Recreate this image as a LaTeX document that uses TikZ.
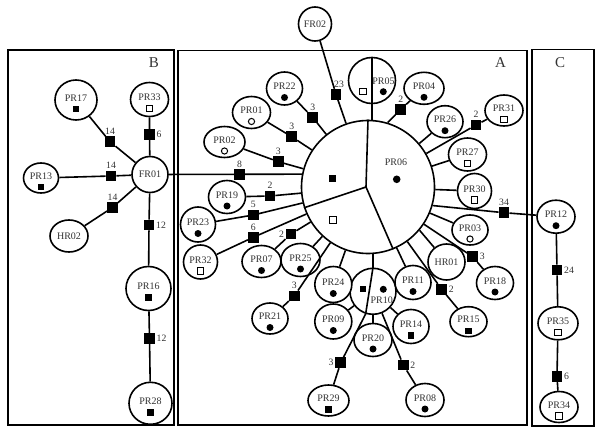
\documentclass[tikz,border=0pt]{standalone}
\usepackage{fontspec}
\setmainfont{Liberation Serif}
\usetikzlibrary{shapes.geometric}
\newcommand\hapfont{\fontsize{10}{12}\selectfont}
\newcommand\numfont{\fontsize{9.7}{11}\selectfont}
\newcommand\boxfont{\fontsize{15}{17}\selectfont}
\newcommand\sFD[1]{\fill (#1.center) ++(0,9) circle (3.5);}
\newcommand\sFS[1]{\fill (#1.center) ++(-3.2,5.8) rectangle ++(6.4,6.4);}
\newcommand\sOS[1]{\draw[line width=1pt] (#1.center) ++(-3.2,5.8) rectangle ++(6.4,6.4);}
\newcommand\sOD[1]{\draw[line width=1pt] (#1.center) ++(0,9) circle (3.1);}
\newcommand\hapnode[6]{\node[hap,minimum width=#3,minimum height=#4] (#1) at (#2) {#5}; #6{#1}}
\newcommand\plainnode[5]{\node[plainhap,minimum width=#3,minimum height=#4] (#1) at (#2) {#5};}
\begin{document}
\begin{tikzpicture}[x=1pt,y=-1pt,
  hap/.style={draw, ellipse, line width=1.6pt, inner sep=0pt, fill=white, text=black!80, font=\hapfont, text height=7pt, text depth=4.6pt},
  plainhap/.style={draw, ellipse, line width=1.6pt, inner sep=0pt, fill=white, text=black!80, font=\hapfont},
  pie/.style={draw, line width=1.6pt, inner sep=0pt, fill=white},
  lab/.style={text=black!80, font=\hapfont, inner sep=0pt},
  mut/.style={rectangle, fill=black, minimum size=10.5pt, inner sep=0pt, label distance=1.5pt},
  num/.style={font=\numfont, text=black!80, inner sep=1.5pt},
  conn/.style={line width=1.6pt},
  boxline/.style={line width=1.3pt},
  boxlab/.style={font=\boxfont, text=black!80}]
\useasboundingbox (0,0) rectangle (600,433);
\fill[white] (0,0) rectangle (600,433);
% boxes
\draw[boxline] (8,50) rectangle (174,425);
\draw[boxline] (178,50.5) rectangle (527,425);
\draw[boxline] (532,49.5) rectangle (594,426);
\node[boxlab] (labB) at (154,62.5) {B};
\node[boxlab] (labA) at (500.5,63) {A};
\node[boxlab] (labC) at (560,62.5) {C};
% ---------- box B nodes
\hapnode{pr17}{76,100}{42}{40}{PR17}{\sFS}
\hapnode{pr33}{149.5,99.5}{38}{34}{PR33}{\sOS}
\plainnode{fr01}{150,174.5}{36}{36}{FR01}
\hapnode{pr13}{41,178}{35}{30}{PR13}{\sFS}
\plainnode{hr02}{69,236}{38}{32}{HR02}
\hapnode{pr16}{148.5,288.5}{45}{44}{PR16}{\sFS}
\hapnode{pr28}{150.5,403.3}{43}{42}{PR28}{\sFS}
% ---------- box A nodes
\node[pie, circle, minimum size=133pt] (pr06) at (368,187) {};
\coordinate (j6) at (366,187);
\draw[conn] (pr06.90) -- (j6) -- (pr06.198);
\draw[conn] (j6) -- (pr06.-68);
\node[lab] (lb06) at (396,162.3) {PR06};
\fill (396.7,179.3) circle (3.8);
\fill (329.2,175.5) rectangle ++(7,7);
\draw[line width=1pt] (329.2,216.5) rectangle ++(7,7);

\node[pie, ellipse, minimum width=47pt, minimum height=46pt] (pr05) at (372,80.5) {};
\draw[conn] (pr05.north) -- (pr05.south);
\node[lab] (lb05) at (383.5,81.5) {PR05};
\draw[line width=1pt] (359.5,88.5) rectangle ++(6.5,6.5);
\fill (383.3,91.7) circle (3.5);

\node[pie, circle, minimum size=46pt] (pr10) at (373,291.3) {};
\draw[conn] (pr10.north) -- (pr10.252);
\node[lab] (lb10) at (381.7,300) {PR10};
\fill (359.5,286) rectangle ++(6.4,6.4);
\fill (383.3,289.3) circle (3.5);

\plainnode{fr02}{315,24}{33}{34}{FR02}
\hapnode{pr04}{424,88.3}{40}{32}{PR04}{\sFD}
\hapnode{pr26}{445,121.7}{36}{32}{PR26}{\sFD}
\hapnode{pr31}{504,110.5}{38}{31}{PR31}{\sOS}
\hapnode{pr27}{467.5,154.5}{38}{33}{PR27}{\sOS}
\hapnode{pr30}{474.5,191}{34}{35}{PR30}{\sOS}
\hapnode{pr03}{470,230}{36}{30}{PR03}{\sOD}
\plainnode{hr01}{446.5,262}{37}{36}{HR01}
\hapnode{pr18}{495,283}{37}{33}{PR18}{\sFD}
\hapnode{pr15}{468.5,321.7}{37}{30}{PR15}{\sFS}
\hapnode{pr11}{413,282.5}{36}{34}{PR11}{\sFD}
\hapnode{pr14}{411,326.5}{36}{34}{PR14}{\sFS}
\hapnode{pr20}{373,340}{38}{33}{PR20}{\sFD}
\hapnode{pr08}{425,400}{38}{33}{PR08}{\sFD}
\hapnode{pr29}{328.5,400.5}{41}{31}{PR29}{\sFS}
\hapnode{pr09}{333.3,321.5}{37}{35}{PR09}{\sFD}
\hapnode{pr24}{333.3,284.5}{37}{36}{PR24}{\sFD}
\hapnode{pr21}{270,318.5}{36}{31}{PR21}{\sFD}
\hapnode{pr25}{300.5,260}{39}{33}{PR25}{\sFD}
\hapnode{pr07}{261.5,261.5}{39}{32}{PR07}{\sFD}
\hapnode{pr32}{200.5,262}{34}{34}{PR32}{\sOS}
\hapnode{pr23}{198,224.5}{35}{35}{PR23}{\sFD}
\hapnode{pr19}{227,197}{37}{33}{PR19}{\sFD}
\hapnode{pr02}{224.5,142}{41}{31}{PR02}{\sOD}
\hapnode{pr01}{251.5,112.5}{38}{32}{PR01}{\sOD}
\hapnode{pr22}{284.5,88.5}{36}{33}{PR22}{\sFD}
% ---------- box C nodes
\hapnode{pr12}{556,216.7}{38}{33}{PR12}{\sFD}
\hapnode{pr35}{558,323.3}{40}{33}{PR35}{\sOS}
\hapnode{pr34}{559,407}{38}{31}{PR34}{\sOS}
% ---------- mutation squares
\node[mut, label={[num]above:14}] (m17) at (110,141.7) {};
\node[mut, label={[num]right:6}] (m33) at (149.5,134.5) {};
\node[mut, label={[num]above:14}] (m13) at (111,176) {};
\node[mut, label={[num]above:14}] (mh2) at (112.5,207.5) {};
\node[mut, label={[num]right:12}] (m16) at (149,225) {};
\node[mut, label={[num]right:12}] (m28) at (149.5,338.3) {};
\node[mut, label={[num]above:8}] (m8) at (239.5,174.3) {};
\node[mut, label={[num]above:3}] (m02) at (278.3,161.7) {};
\node[mut, label={[num]above:3}] (m01) at (291.7,136.7) {};
\node[mut, label={[num]above:3}] (m22) at (312.7,117.3) {};
\node[mut, label distance=3pt, label={[num,xshift=3pt]above:23}] (mf2) at (336,94.3) {};
\node[mut, label={[num]above:2}] (m04) at (400.7,109.3) {};
\node[mut, label={[num]above:2}] (m31) at (476,125) {};
\node[mut, label={[num]above:34}] (m12) at (504,212.7) {};
\node[mut, label={[num]right:3}] (m18) at (472.7,256.7) {};
\node[mut, label={[num]right:2}] (m15) at (441.7,289.3) {};
\node[mut, label={[num]right:2}] (m08) at (403.3,365) {};
\node[mut, label={[num]left:3}] (m29) at (340.7,362.7) {};
\node[mut, label={[num]above:3}] (m21) at (294.3,296) {};
\node[mut, label={[num]left:2}] (m07) at (291,234) {};
\node[mut, label={[num]above:6}] (m32) at (253.3,237.3) {};
\node[mut, label={[num]above:5}] (m23) at (253.3,215) {};
\node[mut, label={[num]above:2}] (m19) at (270,196) {};
\node[mut, label={[num]right:24}] (m24) at (557,270) {};
\node[mut, label={[num]right:6}] (m6) at (557,376.7) {};
% ---------- connectors B
\draw[conn] (pr17) -- (m17) -- (fr01);
\draw[conn] (pr33) -- (m33) -- (fr01);
\draw[conn] (pr13) -- (m13) -- (fr01);
\draw[conn] (hr02) -- (mh2) -- (fr01);
\draw[conn] (fr01) -- (m16) -- (pr16);
\draw[conn] (pr16) -- (m28) -- (pr28);
\draw[conn] (fr01) -- (m8) -- (pr06.169);
% ---------- connectors A
\draw[conn] (fr02) -- (mf2) -- (pr06);
\draw[conn] (pr22) -- (m22) -- (pr06);
\draw[conn] (pr01) -- (m01) -- (pr06);
\draw[conn] (pr02) -- (m02) -- (pr06);
\draw[conn] (pr19) -- (m19) -- (pr06);
\draw[conn] (pr23) -- (m23) -- (pr06);
\draw[conn] (pr32) -- (m32) -- (pr06);
\draw[conn] (pr07) -- (m07) -- (pr06);
\draw[conn] (pr25) -- (pr06);
\draw[conn] (pr21) -- (m21) -- (pr06);
\draw[conn] (pr24) -- (pr06);
\draw[conn] (pr10.north) -- (pr10.north |- pr06.south);
\draw[conn] (pr11) -- (pr06);
\draw[conn] (pr15) -- (m15) -- (pr06);
\draw[conn] (pr06.-40) -- (hr01);
\draw[conn] (pr18) -- (m18) -- (pr06);
\draw[conn] (pr03) -- (pr06);
\draw[conn] (pr06.-16) -- (m12) -- (pr12);
\draw[conn] (pr30) -- (pr06);
\draw[conn] (pr27) -- (pr06);
\draw[conn] (pr31) -- (m31) -- (pr06);
\draw[conn] (pr26) -- (pr06);
\draw[conn] (pr04) -- (m04) -- (pr06.73);
\draw[conn] (pr05.south) -- (pr05.south |- pr06.north);
\draw[conn] (pr10.252) -- (m29) -- (pr29);
\draw[conn] (pr10) -- (m08) -- (pr08);
\draw[conn] (pr10) -- (pr20);
\draw[conn] (pr10) -- (pr09);
\draw[conn] (pr10) -- (pr14);
% ---------- connectors C
\draw[conn] (pr12) -- (m24) -- (pr35);
\draw[conn] (pr35) -- (m6) -- (pr34);
\end{tikzpicture}
\end{document}
